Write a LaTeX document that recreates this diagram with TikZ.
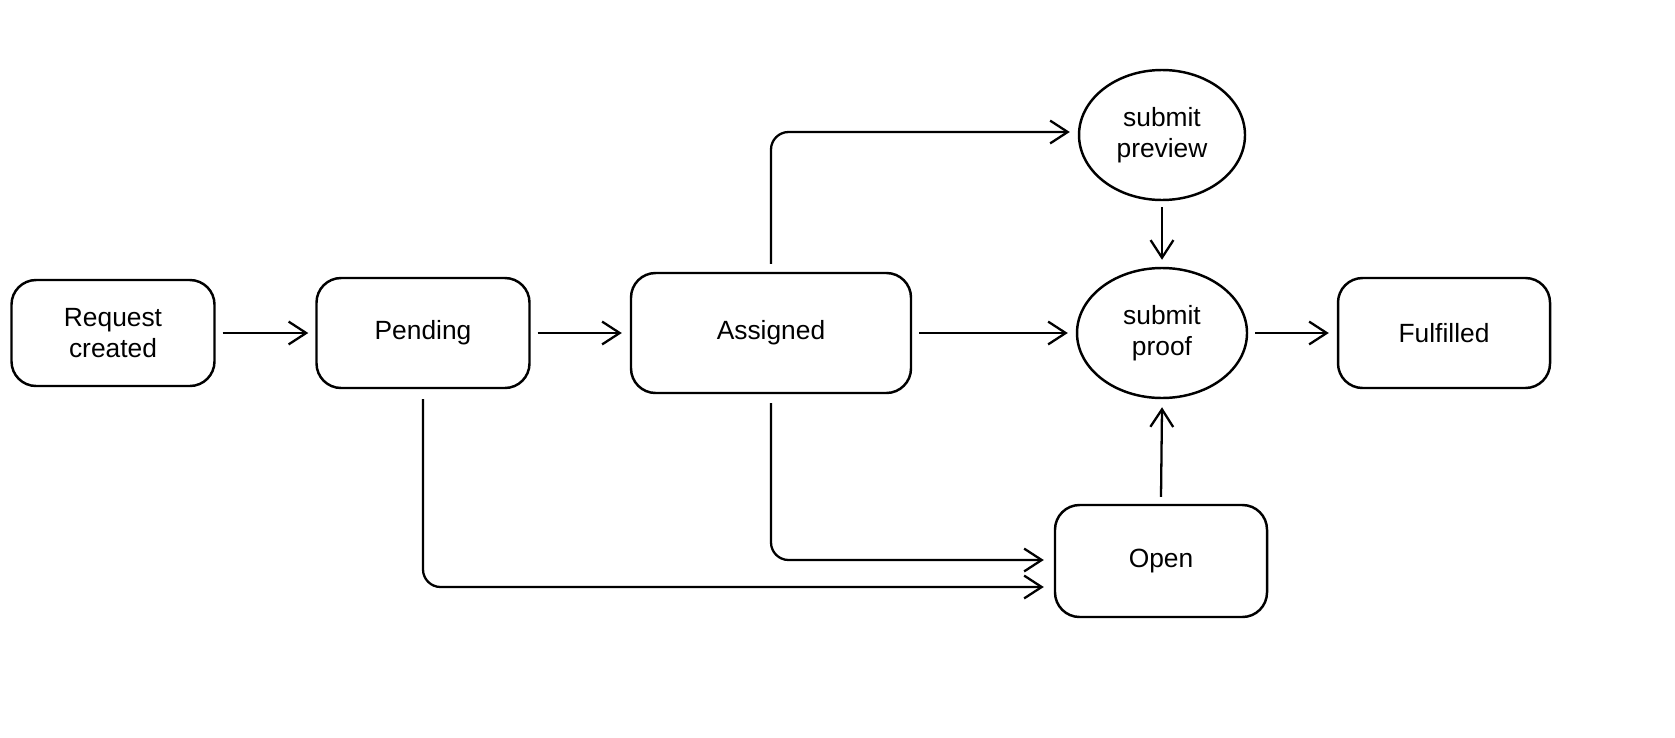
\documentclass[tikz,border=0pt]{standalone}
\usepackage{fontspec}
\setmainfont{Liberation Sans}
\usetikzlibrary{arrows.meta,shapes.geometric}
\begin{document}
\begin{tikzpicture}[x=0.02cm,y=-0.02cm,
  box/.style={draw,line width=1.4pt,rounded corners=14pt,align=center,font=\fontsize{15}{18}\selectfont,inner sep=0pt},
  ell/.style={draw,line width=1.4pt,ellipse,align=center,font=\fontsize{15}{18}\selectfont,inner sep=0pt},
  arr/.style={line width=1.3pt,-{Straight Barb[length=10pt,width=13pt,line width=1.3pt]},rounded corners=10pt}]
\useasboundingbox (0,0) rectangle (1675,737);
\node[box,minimum width=203*0.02cm,minimum height=106*0.02cm] (req) at (113,333) {Request\\created};
\node[box,minimum width=213*0.02cm,minimum height=110*0.02cm] (pen) at (423,333) {Pending};
\node[box,minimum width=280*0.02cm,minimum height=120*0.02cm] (asg) at (771,333) {Assigned};
\node[ell,minimum width=166*0.02cm,minimum height=130*0.02cm] (prev) at (1162,135) {submit\\preview};
\node[ell,minimum width=170*0.02cm,minimum height=130*0.02cm] (proof) at (1162,333) {submit\\proof};
\node[box,minimum width=212*0.02cm,minimum height=110*0.02cm] (ful) at (1444,333) {Fulfilled};
\node[box,minimum width=212*0.02cm,minimum height=112*0.02cm] (open) at (1161,561) {Open};
\draw[arr] ([xshift=7*0.02cm]req.east) -- ([xshift=-7*0.02cm]pen.west);
\draw[arr] ([xshift=7*0.02cm]pen.east) -- ([xshift=-8*0.02cm]asg.west);
\draw[arr] ([xshift=7*0.02cm]asg.east) -- ([xshift=-8*0.02cm]proof.west);
\draw[arr] ([xshift=7*0.02cm]proof.east) -- ([xshift=-8*0.02cm]ful.west);
\draw[arr] ([yshift=8*0.02cm]asg.north) |- ([xshift=-8*0.02cm,yshift=3*0.02cm]prev.west);
\draw[arr] ([yshift=-6*0.02cm]prev.south) -- ([yshift=7*0.02cm]proof.north);
\draw[arr] ([yshift=7*0.02cm]open.north) -- ([yshift=-8*0.02cm]proof.south);
\draw[arr] ([yshift=-9*0.02cm]asg.south) |- ([xshift=-10*0.02cm,yshift=1*0.02cm]open.west);
\draw[arr] ([yshift=-10*0.02cm]pen.south) |- ([xshift=-10*0.02cm,yshift=-26*0.02cm]open.west);
\end{tikzpicture}
\end{document}
